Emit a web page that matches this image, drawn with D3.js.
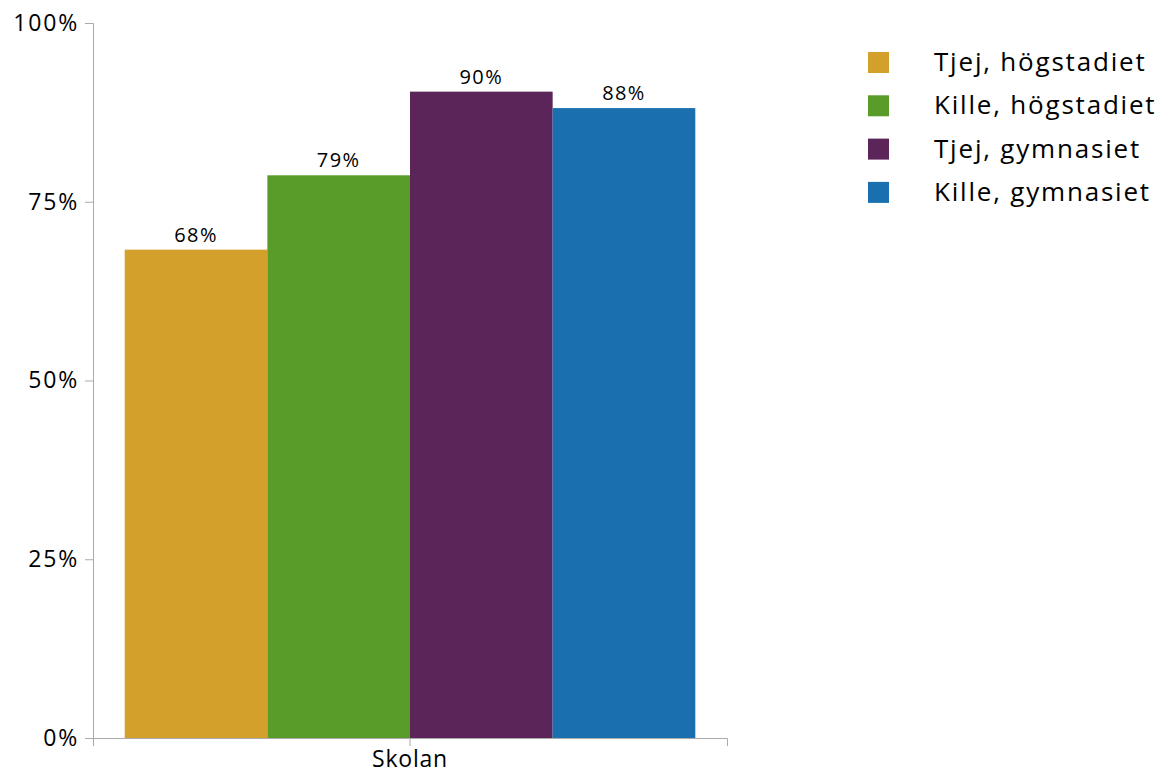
<!DOCTYPE html>
<html><head><meta charset="utf-8">
<script src="https://cdn.jsdelivr.net/npm/d3@7"></script>
<style>body{margin:0;background:#fff}svg{display:block;font-family:"Open Sans",sans-serif}</style>
</head><body><svg id="c" width="1160" height="774"></svg>
<script>
const categories = ["Skolan"];
const seriesNames = ["Tjej, högstadiet","Kille, högstadiet","Tjej, gymnasiet","Kille, gymnasiet"];
const seriesValues = [68.3, 78.7, 90.4, 88.1];
const valueLabels = ["68%","79%","90%","88%"];
const colors = ["#D4A02C","#5A9C2A","#5B2559","#1A70AF"];
const yTicks = [0,25,50,75,100];

const FONT = "'Open Sans', sans-serif";
const svg = d3.select("#c");
const x0 = d3.scaleBand().domain(categories).range([93,727]).paddingOuter(0.045).paddingInner(0.1);
const y = d3.scaleLinear().domain([0,100]).range([738,23]);
const x1 = d3.scaleBand().domain(seriesNames).range([0,x0.bandwidth()]).padding(0);

const yAxis = svg.append("g").attr("transform","translate(93,0)")
  .call(d3.axisLeft(y).tickValues(yTicks).tickFormat(d=>d+"%").tickSizeOuter(0).tickSize(8).tickPadding(6));
yAxis.select(".domain").attr("stroke","#aaa");
yAxis.selectAll(".tick line").attr("stroke","#aaa");
yAxis.selectAll("text").attr("font-size",23).attr("fill","#000").attr("font-family",FONT).attr("letter-spacing","1.8px");

const g = svg.append("g");
categories.forEach(cat=>{
  seriesNames.forEach((s,i)=>{
    g.append("rect").attr("x",x0(cat)+x1(s)).attr("y",y(seriesValues[i]))
      .attr("width",x1.bandwidth()).attr("height",y(0)-y(seriesValues[i])).attr("fill",colors[i]);
    g.append("text").attr("x",x0(cat)+x1(s)+x1.bandwidth()/2).attr("y",y(seriesValues[i])-8)
      .attr("text-anchor","middle").attr("font-size",20).attr("letter-spacing","1.4px").text(valueLabels[i]);
  });
});

const xAxis = svg.append("g").attr("transform","translate(0,738)")
  .call(d3.axisBottom(x0).tickSizeOuter(0).tickSize(8).tickPadding(5));
xAxis.select(".domain").attr("stroke","#aaa");
xAxis.selectAll(".tick line").attr("stroke","#aaa");
xAxis.selectAll("text").attr("font-size",23).attr("fill","#000").attr("font-family",FONT).attr("letter-spacing","0.8px");

const leg = svg.append("g");
seriesNames.forEach((s,i)=>{
  const yy = 62 + i*43.3;
  leg.append("rect").attr("x",868).attr("y",yy-10).attr("width",21).attr("height",21).attr("fill",colors[i]);
  leg.append("text").attr("x",934).attr("y",yy).attr("dy","0.35em").attr("font-size",26).attr("letter-spacing","1.8px").text(s);
});
</script></body></html>
